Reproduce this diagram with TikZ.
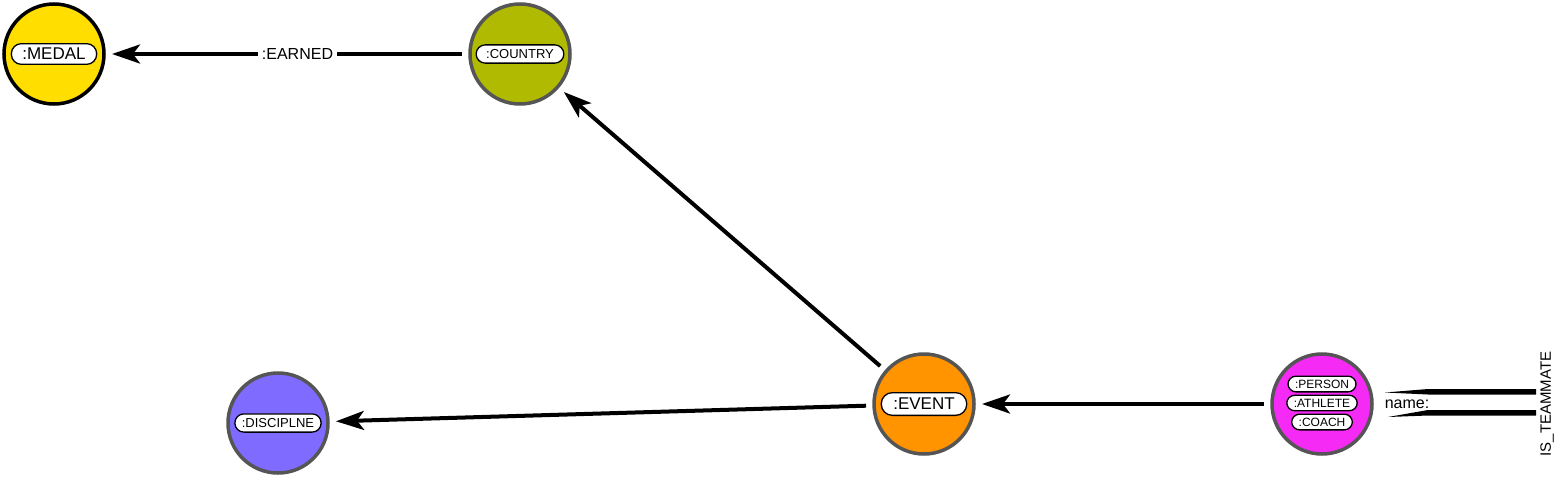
\documentclass[tikz,border=0pt]{standalone}
\usepackage{fontspec}
\setmainfont{Liberation Sans}
\usetikzlibrary{arrows.meta}

\definecolor{medalYellow}{HTML}{FFDE00}
\definecolor{countryGreen}{HTML}{B0BA00}
\definecolor{eventOrange}{HTML}{FF9300}
\definecolor{disciplineBlue}{HTML}{7F6BFF}
\definecolor{personPink}{HTML}{F52BF5}
\definecolor{rimGray}{HTML}{555555}

\tikzset{
  graphnode/.style={circle, draw=rimGray, line width=3.5pt, minimum size=100pt,
    inner sep=0pt, outer sep=8pt},
  pill/.style={draw=black, fill=white, line width=1.3pt, rounded corners=#1,
    inner xsep=10pt, inner ysep=4.5pt},
  pill/.default=9pt,
  rel/.style={line width=4pt, -{Stealth[length=28pt, width=19pt, inset=7pt]}},
  rellabel/.style={fill=white, inner sep=4pt, font=\fontsize{16}{16}\selectfont}
}

\begin{document}
\begin{tikzpicture}[x=1pt, y=-1pt]
    \useasboundingbox (0,0) rectangle (1562,479);

    % Nodes of the graph
    \node[graphnode, draw=black, fill=medalYellow] (medal) at (54,54) {};
    \node[graphnode, fill=countryGreen] (country) at (520,54) {};
    \node[graphnode, fill=eventOrange] (event) at (924,404) {};
    \node[graphnode, fill=disciplineBlue] (discipline) at (278,423) {};
    \node[graphnode, fill=personPink] (person) at (1322,404) {};

    % Labels inside the nodes
    \node[pill=10pt, inner xsep=11pt, font=\fontsize{17}{17}\selectfont] at (medal) {:MEDAL};
    \node[pill, font=\fontsize{13}{13}\selectfont] at (country) {:COUNTRY};
    \node[pill=11pt, inner xsep=12pt, inner ysep=5.5pt, font=\fontsize{17}{17}\selectfont] at (event) {:EVENT};
    \node[pill, inner xsep=7pt, font=\fontsize{13}{13}\selectfont] at (discipline) {:DISCIPLNE};
    \node[pill=8pt, inner xsep=7pt, inner ysep=3.6pt, font=\fontsize{12}{12}\selectfont] at (1322,384) {:PERSON};
    \node[pill=8pt, inner xsep=7pt, inner ysep=3.6pt, font=\fontsize{12}{12}\selectfont] at (1322,403) {:ATHLETE};
    \node[pill=8pt, inner xsep=7pt, inner ysep=3.6pt, font=\fontsize{12}{12}\selectfont] at (1322,422) {:COACH};

    % Relationships
    \draw[rel] (country) -- (medal) node[rellabel, pos=0.47] {:EARNED};
    \draw[rel] (event) -- (country);
    \draw[rel] (event) -- (discipline);
    \draw[rel] (person) -- (event);

    % Self relationship leaving the picture
    \coordinate (loopTop) at (1536,389);
    \coordinate (loopBot) at (1536,410);
    \fill (loopTop) -- (1428,389) -- (1385,392.5) -- (1428,394.5) -- (1536,394.5) -- cycle;
    \fill (loopBot) -- (1428,410) -- (1388,417) -- (1428,415.5) -- (1536,415.5) -- cycle;
    \node[font=\fontsize{16}{16}\selectfont, inner sep=1pt] (loopname) at (1407,404) {name:};
    \node[font=\fontsize{15}{15}\selectfont, rotate=90, inner sep=0pt] (looplabel) at (1547,404) {IS\_TEAMMATE};
\end{tikzpicture}
\end{document}
